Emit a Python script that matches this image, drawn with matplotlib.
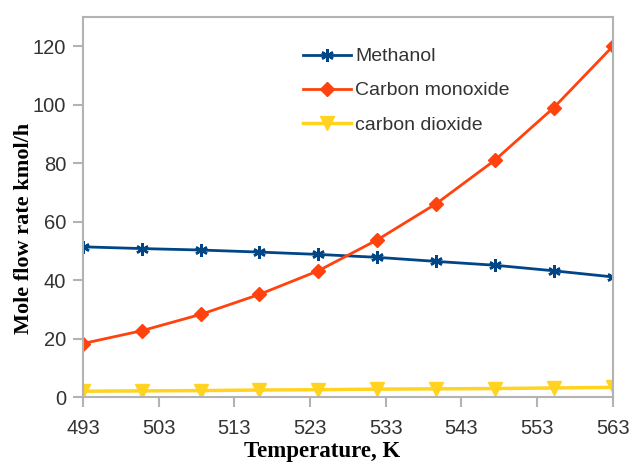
import matplotlib
matplotlib.use("Agg")
import matplotlib.pyplot as plt

temperature = [493, 500.8, 508.6, 516.3, 524.1, 531.9, 539.7, 547.4, 555.2, 563]
methanol = [51.4, 50.8, 50.3, 49.6, 48.8, 47.8, 46.4, 45.1, 43.2, 41.1]
carbon_monoxide = [18.3, 22.7, 28.3, 35.1, 43.2, 53.8, 66.2, 81.0, 99.0, 120.0]
carbon_dioxide = [2.0, 2.1, 2.2, 2.4, 2.5, 2.7, 2.8, 2.9, 3.1, 3.3]
x_ticks = [493, 503, 513, 523, 533, 543, 553, 563]
y_ticks = [0, 20, 40, 60, 80, 100, 120]

fig = plt.figure(figsize=(6.33, 4.63), dpi=100)
ax = fig.add_axes([0.131, 0.1425, 0.837, 0.8205])

ax.plot(temperature, methanol, color="#004586", lw=2, marker=(6, 2, 0), ms=9,
        mew=1.8, label="Methanol")
ax.plot(temperature, carbon_monoxide, color="#ff420e", lw=2, marker="D", ms=7,
        label="Carbon monoxide")
ax.plot(temperature, carbon_dioxide, color="#ffd320", lw=2.5, marker="v", ms=10,
        label="carbon dioxide")

ax.set_xlim(493, 563)
ax.set_ylim(0, 130)
ax.set_xticks(x_ticks)
ax.set_yticks(y_ticks)
for s in ax.spines.values():
    s.set_color("#b3b3b3")
    s.set_linewidth(1.5)
ax.tick_params(colors="#b3b3b3", length=7, width=1.5, labelcolor="#333333",
               labelsize=14.5)
ax.tick_params(axis="x", pad=8.5)
ax.tick_params(axis="y", pad=5)
for lab in ax.get_xticklabels() + ax.get_yticklabels():
    lab.set_fontfamily("Liberation Sans")

ax.set_xlabel("Temperature, K", fontfamily="Liberation Serif", fontweight="bold",
              fontsize=16.5)
ax.set_ylabel("Mole flow rate kmol/h", fontfamily="Liberation Serif",
              fontweight="bold", fontsize=16)
ax.xaxis.set_label_coords(0.451, -0.116)
ax.yaxis.set_label_coords(-0.092, 0.445)

leg = ax.legend(loc="upper left", bbox_to_anchor=(0.40, 0.94), frameon=False,
                prop={"family": "Liberation Sans", "size": 14},
                handlelength=2.5, handletextpad=0.2, labelspacing=0.85,
                borderaxespad=0)
for t in leg.get_texts():
    t.set_color("#333333")

fig.savefig("out.png", dpi=100)
